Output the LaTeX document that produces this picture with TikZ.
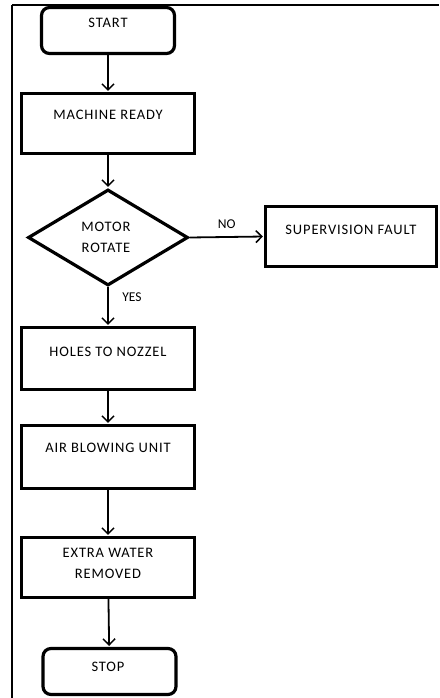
\documentclass[tikz,border=0pt]{standalone}
\usepackage{fontspec}
\setmainfont{Carlito}
\newfontfamily\boxfont[LetterSpace=6]{Carlito}
\usetikzlibrary{arrows.meta,shapes.geometric,positioning}

\tikzset{
	box/.style={draw, line width=3.2pt, minimum width=173pt, minimum height=60pt, inner sep=0pt},
	term/.style={draw, line width=3.2pt, rounded corners=8pt, minimum width=133pt, minimum height=46pt, inner sep=0pt},
	cond/.style={draw, diamond, line width=3.2pt, minimum width=160pt, minimum height=96pt, inner sep=0pt},
	txt/.style={font=\boxfont\fontsize{14.5}{21}\selectfont, inner sep=0pt, align=center},
	lbl/.style={font=\fontsize{13.5}{16}\selectfont, inner sep=0pt},
	flow/.style={line width=1.8pt, -{Straight Barb[length=6pt,width=12pt,line width=1.5pt]}, shorten >=1pt},
}

\begin{document}
\begin{tikzpicture}[x=1pt, y=-1pt]
				\useasboundingbox (0,0) rectangle (439,698);
				
				\draw [line width=2pt] (12,5) -- (439,5);
				\draw [line width=1.4pt] (12,5) -- (12,698);
				
				\node [term] (start) at (108,30.5) {};
				\node [box] (mr) at (108,123.5) {};
				\node [cond] (rot) at (108,237.5) {};
				\node [box, minimum width=171pt] (sf) at (351,236.5) {};
				\node [box, minimum height=62pt] (ht) at (108,358.5) {};
				\node [box, minimum height=63pt] (air) at (108,457) {};
				\node [box] (ewr) at (108,567.5) {};
				\node [term] (stop) at (109.5,671.5) {};
				
				\node [txt] (starttxt) at (108,23) {START};
				\node [txt] (mrtxt) at (108,115) {MACHINE READY};
				\node [txt] (rottxt) at (106,237.5) {MOTOR\\ROTATE};
				\node [txt] (sftxt) at (351,230) {SUPERVISION FAULT};
				\node [txt] (httxt) at (108,352) {HOLES TO NOZZEL};
				\node [txt] (airtxt) at (108,448) {AIR BLOWING UNIT};
				\node [txt] (ewrtxt) at (108,563) {EXTRA WATER\\REMOVED};
				\node [txt] (stoptxt) at (108,667) {STOP};
				
				\draw [flow] (start) -- (mr);
				\draw [flow] (mr) -- (rot);
				\draw [flow] (rot.east) -- node [lbl, above=8pt] (no) {NO} (sf.west);
				\draw [flow] (rot.south) -- (ht.north);
				\node [lbl] (yes) at (132,297) {YES};
				\draw [flow] (ht) -- (air);
				\draw [flow] (air) -- (ewr);
				\draw [flow] (ewr) -- (stop);
\end{tikzpicture}
\end{document}
